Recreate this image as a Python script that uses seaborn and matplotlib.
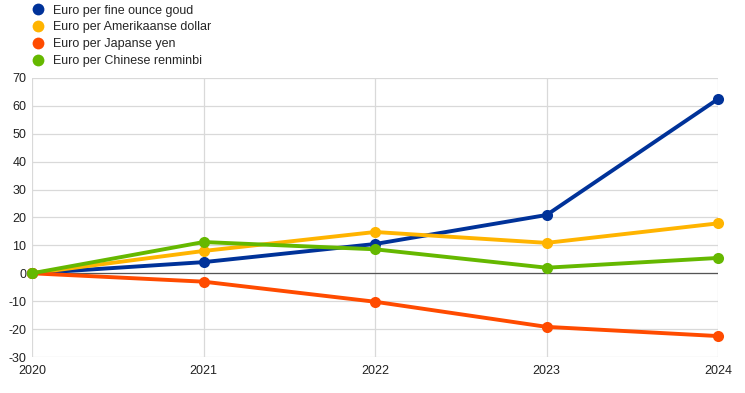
import matplotlib
matplotlib.use("Agg")
import matplotlib.pyplot as plt
import seaborn as sns
import pandas as pd
from matplotlib.lines import Line2D

years = [2020, 2021, 2022, 2023, 2024]
gold = [0.0, 4.0, 10.5, 20.9, 62.5]
usd = [0.0, 8.0, 14.8, 10.9, 17.9]
jpy = [0.0, -3.0, -10.2, -19.2, -22.5]
cny = [0.0, 11.2, 8.6, 2.0, 5.5]
series_names = ["Euro per fine ounce goud", "Euro per Amerikaanse dollar",
                "Euro per Japanse yen", "Euro per Chinese renminbi"]
colors = ["#003299", "#FFB400", "#FF4B00", "#65B800"]
yticks = list(range(-30, 71, 10))

rows = []
for name, vals in zip(series_names, [gold, usd, jpy, cny]):
    for y, v in zip(years, vals):
        rows.append({"year": y, "value": v, "series": name})
df = pd.DataFrame(rows)

sns.set_theme(style="white")
plt.rcParams['font.family'] = ['Liberation Sans', 'DejaVu Sans']

fig = plt.figure(figsize=(7.45, 3.93), dpi=100)
ax = fig.add_axes([0.043, 0.0916, 0.921, 0.71])

sns.lineplot(data=df, x="year", y="value", hue="series", hue_order=series_names,
             palette=colors, marker="o", markersize=8, markeredgewidth=0,
             linewidth=2.8, ax=ax, legend=False, zorder=3)
for ln in ax.lines:
    ln.set_clip_on(False)

ax.set_xlim(2020, 2024)
ax.set_ylim(-30, 70)
ax.set_xticks(years)
ax.set_xticklabels([str(y) for y in years])
ax.set_yticks(yticks)
ax.set_yticklabels([str(t) for t in yticks])
ax.grid(True, color="#d9d9d9", linewidth=0.9, zorder=0)
ax.set_axisbelow(True)
ax.axhline(0, color="#555555", linewidth=0.9, zorder=2)
for s in ax.spines.values():
    s.set_visible(False)
ax.tick_params(axis="both", length=0, labelsize=9, colors="#222222", pad=4)
ax.tick_params(axis="x", pad=6)
ax.set_xlabel("")
ax.set_ylabel("")

handles = [Line2D([], [], linestyle="none", marker="o", markersize=8.5,
                  markerfacecolor=c, markeredgewidth=0) for c in colors]
fig.legend(handles, series_names, loc="upper left", bbox_to_anchor=(0.041, 0.988),
           frameon=False, fontsize=9, handletextpad=0.6, labelspacing=0.38,
           handlelength=1.2, borderaxespad=0, borderpad=0)

fig.savefig("out.png", dpi=100)
